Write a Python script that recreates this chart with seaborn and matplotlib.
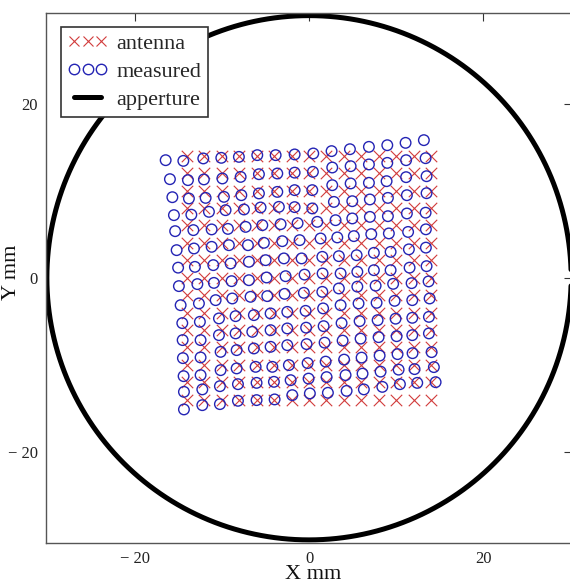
import numpy as np
import pandas as pd
import matplotlib
matplotlib.use("Agg")
import matplotlib.pyplot as plt
from matplotlib.lines import Line2D
import seaborn as sns

# Nominal antenna grid (mm)
antenna_x = [-14, -12, -10, -8, -6, -4, -2, 0, 2, 4, 6, 8, 10, 12, 14]
antenna_y = [14, 12, 10, 8, 6, 4, 2, 0, -2, -4, -6, -8, -10, -12, -14]

# Measured positions, one list per grid row (top to bottom), mm
measured_x = [
    [-16.46, -14.43, -12.14, -10.07, -8.05, -5.94, -3.83, -1.65, 0.49, 2.59, 4.70, 6.88, 8.99, 11.09, 13.19],
    [-15.97, -13.90, -12.07, -9.95, -7.85, -5.75, -3.64, -1.65, 0.45, 2.67, 4.78, 6.88, 8.99, 11.15, 13.39],
    [-15.69, -13.79, -11.87, -9.77, -7.77, -5.75, -3.64, -1.65, 0.38, 2.67, 4.78, 6.88, 8.91, 11.15, 13.50],
    [-15.51, -13.51, -11.49, -9.58, -7.47, -5.56, -3.46, -1.65, 0.38, 2.86, 4.97, 6.99, 9.06, 11.24, 13.50],
    [-15.37, -13.28, -11.18, -9.31, -7.28, -5.36, -3.26, -1.31, 0.95, 3.05, 4.97, 6.99, 9.06, 11.24, 13.39],
    [-15.20, -13.21, -11.18, -9.20, -7.01, -5.18, -3.07, -1.08, 1.33, 3.25, 5.15, 7.15, 9.17, 11.38, 13.42],
    [-15.03, -13.10, -10.99, -9.00, -6.90, -4.98, -2.88, -0.85, 1.53, 3.43, 5.47, 7.45, 9.37, 11.47, 13.42],
    [-14.94, -12.82, -10.92, -8.89, -6.90, -4.87, -2.69, -0.51, 1.56, 3.63, 5.55, 7.45, 9.37, 11.55, 13.50],
    [-14.74, -12.64, -10.72, -8.81, -6.71, -4.79, -2.80, -0.59, 1.53, 3.43, 5.55, 7.65, 9.66, 11.78, 13.73],
    [-14.55, -12.53, -10.34, -8.43, -6.33, -4.41, -2.49, -0.39, 1.62, 3.63, 5.69, 7.76, 9.83, 11.86, 13.85],
    [-14.51, -12.45, -10.34, -8.43, -6.51, -4.41, -2.49, -0.33, 1.68, 3.74, 5.81, 7.88, 9.94, 11.86, 13.77],
    [-14.48, -12.45, -10.15, -8.31, -6.33, -4.41, -2.49, -0.28, 1.79, 3.86, 5.92, 7.99, 10.06, 11.86, 13.77],
    [-14.40, -12.45, -10.15, -8.31, -6.13, -4.21, -2.31, -0.16, 1.91, 4.03, 6.04, 8.11, 10.17, 11.89, 14.08],
    [-14.36, -12.25, -10.23, -8.16, -6.02, -4.03, -2.11, -0.05, 2.02, 4.20, 6.15, 8.22, 10.29, 12.12, 14.34],
    [-14.36, -12.25, -10.23, -8.16, -6.02, -3.95, -1.92, 0.10, 2.17, 4.32, 6.30, 8.42, 10.44, 12.43, 14.54],
]
measured_y = [
    [13.50, 13.42, 13.70, 13.77, 13.88, 14.08, 14.08, 14.16, 14.27, 14.54, 14.76, 15.03, 15.22, 15.49, 15.80],
    [11.32, 11.21, 11.29, 11.40, 11.58, 11.89, 11.97, 12.07, 12.16, 12.66, 12.81, 13.01, 13.19, 13.50, 13.73],
    [9.25, 9.10, 9.17, 9.29, 9.48, 9.68, 9.86, 10.06, 10.06, 10.63, 10.83, 10.90, 11.09, 11.55, 11.66],
    [7.19, 7.24, 7.57, 7.76, 7.84, 8.07, 8.14, 8.11, 7.96, 8.71, 8.79, 8.99, 9.17, 9.48, 9.71],
    [5.35, 5.47, 5.55, 5.61, 5.84, 6.04, 6.15, 6.27, 6.42, 6.61, 6.81, 6.99, 7.07, 7.38, 7.47],
    [3.17, 3.36, 3.55, 3.74, 3.74, 4.01, 4.20, 4.32, 4.51, 4.63, 4.78, 5.01, 5.09, 5.26, 5.56],
    [1.16, 1.25, 1.45, 1.64, 1.83, 2.02, 2.22, 2.22, 2.40, 2.48, 2.59, 2.86, 2.97, 3.26, 3.46],
    [-0.96, -0.73, -0.59, -0.39, -0.28, 0.03, 0.18, 0.36, 0.49, 0.49, 0.68, 0.87, 0.87, 1.16, 1.33],
    [-3.15, -2.95, -2.57, -2.38, -2.19, -2.11, -1.85, -1.73, -1.62, -1.23, -1.02, -0.91, -0.70, -0.62, -0.42],
    [-5.21, -5.06, -4.67, -4.41, -4.29, -4.10, -3.92, -3.80, -3.52, -3.15, -2.95, -2.88, -2.65, -2.57, -2.38],
    [-7.16, -7.16, -6.59, -6.39, -6.21, -6.02, -5.82, -5.73, -5.56, -5.21, -4.98, -4.87, -4.70, -4.60, -4.49],
    [-9.23, -9.15, -8.51, -8.31, -8.12, -7.93, -7.74, -7.62, -7.45, -7.22, -6.99, -6.82, -6.71, -6.59, -6.39],
    [-11.30, -11.18, -10.61, -10.41, -10.23, -10.23, -10.03, -9.80, -9.63, -9.40, -9.17, -8.94, -8.77, -8.66, -8.54],
    [-13.10, -12.82, -12.45, -12.22, -12.07, -11.95, -11.76, -11.58, -11.41, -11.18, -11.01, -10.78, -10.55, -10.49, -10.26],
    [-15.12, -14.63, -14.51, -14.13, -14.05, -13.97, -13.48, -13.28, -13.21, -12.99, -12.82, -12.53, -12.22, -12.07, -11.99],
]

aperture_radius = 30.1  # mm

series_labels = ["antenna", "measured", "apperture"]
tick_values = [-20, 0, 20]
tick_labels = ["\u2212 20", "0", "20"]

RED = "#d23c3c"
BLUE = "#2424b4"

sns.set_theme(style="white")
plt.rcParams["font.family"] = ["Liberation Serif", "DejaVu Serif"]

fig = plt.figure(figsize=(5.7, 5.85), dpi=100)
ax = fig.add_axes([46 / 570, (585 - 542.5) / 585, (572 - 46) / 570, (542.5 - 13) / 585])

antenna = pd.DataFrame([(x, y) for y in antenna_y for x in antenna_x], columns=["x", "y"])
measured = pd.DataFrame({"x": np.ravel(measured_x), "y": np.ravel(measured_y)})

theta = np.linspace(0, 2 * np.pi, 721)
aperture = pd.DataFrame({"x": aperture_radius * np.cos(theta),
                         "y": aperture_radius * np.sin(theta)})

sns.lineplot(data=aperture, x="x", y="y", sort=False, estimator=None,
             color="black", linewidth=3.6, ax=ax, zorder=1)
sns.scatterplot(data=antenna, x="x", y="y", marker="x", s=68, color=RED,
                linewidth=0.8, ax=ax, legend=False, zorder=2)
sns.scatterplot(data=measured, x="x", y="y", marker="o", s=58,
                facecolors="none", edgecolor=BLUE, linewidth=1.0,
                ax=ax, legend=False, zorder=3)

ax.set_xlim(-30.2, 30.2)
ax.set_ylim(-30.4, 30.4)

ax.set_xticks(tick_values)
ax.set_xticklabels(tick_labels)
ax.set_yticks(tick_values)
ax.set_yticklabels(tick_labels)
ax.tick_params(direction="in", length=6, width=0.8, color="#333333",
               top=True, right=True, labelsize=12, pad=6, labelcolor="#222222")
for sp in ax.spines.values():
    sp.set_color("#555555")
    sp.set_linewidth(1.0)

ax.set_xlabel("X mm", fontsize=16, color="#111111")
ax.set_ylabel("Y mm", fontsize=16, color="#111111")
ax.xaxis.set_label_coords(0.508, -0.043)
ax.yaxis.set_label_coords(-0.048, 0.51)

handles = [
    Line2D([], [], ls="none", marker="x", ms=7.5, mew=0.8, color=RED),
    Line2D([], [], ls="none", marker="o", ms=7.5, mfc="none", mec=BLUE, mew=1.0),
    Line2D([], [], color="black", lw=3.6),
]
leg = ax.legend(handles, series_labels, loc="upper left",
                bbox_to_anchor=(15 / 526, 1 - 13.7 / 529.5), borderaxespad=0,
                numpoints=3, fontsize=16, handlelength=1.8, handletextpad=0.4,
                labelspacing=0.34, borderpad=0.3, frameon=True, fancybox=False,
                framealpha=1, edgecolor="#333333")
leg.get_frame().set_linewidth(1.2)
leg.set_zorder(5)

fig.savefig("out.png", dpi=100)
